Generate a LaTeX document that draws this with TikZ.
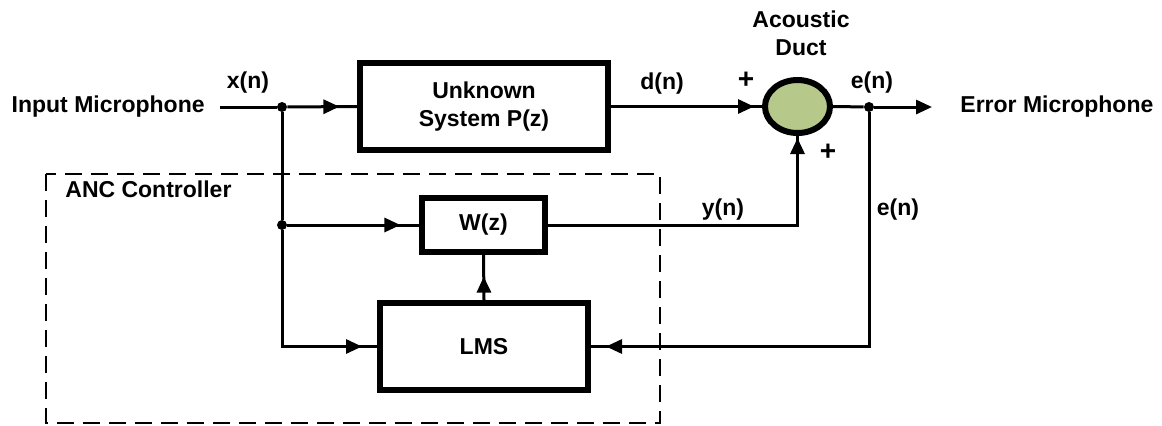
\documentclass[tikz,border=0pt]{standalone}
\usepackage{fontspec}
\setmainfont{Liberation Sans}
\usetikzlibrary{arrows.meta,decorations.markings,shapes.geometric}

\definecolor{ductgreen}{RGB}{182,200,138}

\tikzset{
  wire/.style={line width=1.5pt},
  tip/.style={-{Triangle[length=8pt,width=7pt]}},
  midarrow/.style={postaction={decorate,decoration={markings,
      mark=at position -#1 with {\arrow{Triangle[length=8pt,width=7pt]}}}}},
  block/.style={draw,line width=2.6pt,fill=white,inner sep=0pt,
      font=\fontsize{11.5}{14}\selectfont\bfseries,align=center},
  lbl/.style={font=\fontsize{11.5}{14}\selectfont\bfseries,inner sep=0pt,align=center},
  sign/.style={font=\fontsize{14}{16}\selectfont\bfseries,inner sep=0pt},
  junction/.style={circle,fill=black,inner sep=0pt,minimum size=5pt},
  frame/.style={line width=1.4pt,dash pattern=on 8.5pt off 4.5pt}
}

\begin{document}
\begin{tikzpicture}[x=0.5pt,y=-0.5pt]
  \useasboundingbox (0,0) rectangle (1162,425);

  % ANC controller frame
  \draw[frame] (46,174) rectangle (660,423);
  \node[lbl,anchor=west] (anc) at (65,189) {ANC Controller};

  % blocks
  \node[block,minimum width=124pt,minimum height=43.5pt] (plant) at (484,106.5)
       {Unknown\\System P(z)};
  \node[block,minimum width=61.5pt,minimum height=27pt] (wz) at (483.5,225) {W(z)};
  \node[block,line width=3pt,minimum width=104pt,minimum height=43.5pt] (lms) at (484,346.5) {LMS};
  \node[ellipse,draw,line width=3pt,fill=ductgreen,minimum width=32.5pt,
        minimum height=26.5pt,inner sep=0pt] (duct) at (797.5,106.5) {};

  % end labels
  \node[lbl,anchor=east] (inmic) at (205,107) {Input Microphone};
  \node[lbl,anchor=west] (errmic) at (960,107) {Error Microphone};
  \node[lbl] (ductlbl) at (801,33) {Acoustic\\Duct};

  % branch points and free ends
  \coordinate (src) at (220,107);
  \node[junction] (jx) at (282,107) {};
  \node[junction] (jw) at (282,225) {};
  \node[junction] (je) at (869,107) {};
  \coordinate (sink) at (932,107);

  % signal paths
  \draw[wire] (src) -- (jx);
  \draw[wire,midarrow=9pt] (jx) -- (plant.west);
  \draw[wire,midarrow=4pt] (plant.east) -- (duct.west);
  \draw[wire] (duct.east) -- (je);
  \draw[wire,tip] (je) -- (sink);
  \draw[wire] (jx) -- (jw);
  \draw[wire,midarrow=9.5pt] (jw) -- (wz.west);
  \draw[wire,midarrow=7.5pt] (jw) |- (lms.west);
  \draw[wire,midarrow=11pt] (lms.north) -- (wz.south);
  \draw[wire,midarrow=1pt] (wz.east) -| (duct.south);
  \draw[wire,midarrow=7.5pt] (je) |- (lms.east);

  % signal labels
  \node[lbl] (xn) at (248,83) {x(n)};
  \node[lbl] (dn) at (662,84) {d(n)};
  \node[sign] (p1) at (746,80) {+};
  \node[sign] (p2) at (828,152) {+};
  \node[lbl] (en1) at (872,83) {e(n)};
  \node[lbl] (yn) at (723,210) {y(n)};
  \node[lbl] (en2) at (898,210) {e(n)};
\end{tikzpicture}
\end{document}
